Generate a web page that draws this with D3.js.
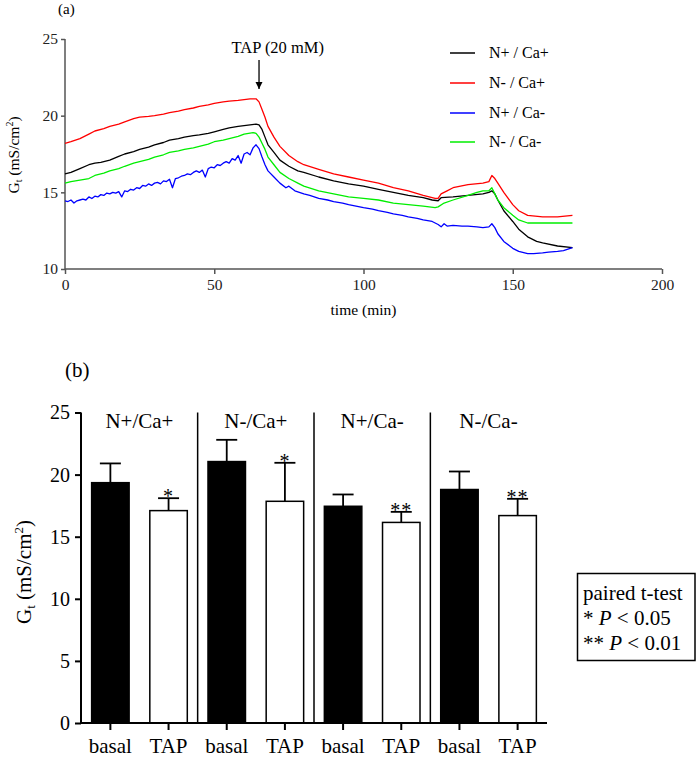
<!DOCTYPE html>
<html><head><meta charset="utf-8">
<script src="https://cdn.jsdelivr.net/npm/d3@7"></script>
<style>
body{margin:0;background:#fff;}
svg{display:block;}
</style></head>
<body><svg id="c" width="700" height="762" font-family="Liberation Serif"></svg>
<script>
// ---------- DATA (panel a) ----------
const seriesNames = ["N+ / Ca+", "N- / Ca+", "N+ / Ca-", "N- / Ca-"];
const seriesColors = ["#000000", "#ff0000", "#0000ff", "#00ee00"];
const blackTrace = [[0,16.2],[2,16.3],[5,16.55],[8,16.8],[10,16.9],[12,16.95],[15,17.1],[18,17.35],[20,17.5],[23,17.65],[25,17.8],[28,17.95],[30,18.1],[33,18.25],[35,18.4],[38,18.5],[40,18.6],[43,18.7],[45,18.75],[48,18.85],[50,18.95],[53,19.1],[55,19.2],[58,19.3],[60,19.35],[62,19.4],[64,19.45],[65,19.4],[66,19.1],[67,18.6],[68,18.1],[70,17.6],[72,17.1],[75,16.7],[78,16.4],[80,16.3],[85,16.0],[90,15.75],[95,15.55],[100,15.4],[105,15.2],[110,15.0],[115,14.8],[120,14.65],[123,14.5],[125,14.45],[126,14.65],[130,14.7],[135,14.8],[140,14.9],[142,15.0],[143,15.1],[144,14.9],[145,14.5],[147,13.8],[150,13.1],[152,12.6],[155,12.1],[158,11.8],[160,11.7],[165,11.5],[170,11.4]];
const redTrace = [[0,18.2],[2,18.3],[5,18.5],[8,18.8],[10,19.0],[13,19.15],[15,19.3],[18,19.45],[20,19.6],[23,19.8],[25,19.9],[28,19.95],[30,20.0],[33,20.1],[35,20.2],[38,20.3],[40,20.4],[43,20.5],[45,20.6],[48,20.7],[50,20.8],[53,20.9],[55,20.95],[58,21.0],[60,21.05],[62,21.1],[64,21.1],[65,20.9],[66,20.4],[67,19.9],[68,19.3],[70,18.6],[72,18.0],[75,17.4],[78,17.0],[80,16.8],[85,16.5],[90,16.2],[95,16.0],[100,15.8],[105,15.6],[110,15.3],[115,15.1],[120,14.8],[124,14.6],[125,14.6],[126,14.9],[128,15.1],[130,15.3],[135,15.5],[140,15.6],[142,15.7],[143,16.1],[144,15.9],[145,15.6],[147,15.0],[150,14.2],[152,13.8],[155,13.5],[160,13.4],[165,13.4],[170,13.5]];
const blueTrace = [[0,14.45],[1,14.4],[2,14.5],[3,14.3],[4,14.45],[5,14.5],[6,14.55],[7,14.5],[8,14.7],[9,14.6],[10,14.75],[11,14.7],[12,14.85],[13,14.8],[14,14.95],[15,14.9],[16,15.0],[17,14.95],[18,15.05],[19,14.7],[20,15.1],[21,15.05],[22,15.2],[23,15.15],[24,15.3],[25,15.25],[26,15.45],[27,15.4],[28,15.55],[29,15.45],[30,15.6],[31,15.65],[32,15.55],[33,15.75],[34,15.7],[35,15.85],[36,15.3],[37,15.9],[38,15.95],[39,16.05],[40,16.1],[41,16.2],[42,16.15],[43,16.3],[44,16.4],[45,16.3],[46,16.45],[47,16.0],[48,16.55],[49,16.65],[50,16.6],[51,16.8],[52,16.75],[53,16.9],[54,17.0],[55,16.9],[56,17.2],[57,17.1],[58,17.4],[59,16.9],[60,17.5],[61,17.6],[62,17.45],[63,17.9],[64,18.1],[65,17.85],[66,17.3],[67,16.8],[68,16.4],[70,16.0],[72,15.6],[74,15.3],[75,15.4],[77,15.1],[80,14.9],[82,14.8],[85,14.6],[88,14.5],[90,14.4],[93,14.3],[95,14.2],[100,14.0],[103,13.9],[105,13.8],[108,13.7],[110,13.6],[113,13.5],[115,13.4],[118,13.3],[120,13.2],[123,13.1],[125,12.9],[126,12.75],[127,12.95],[128,12.8],[130,12.85],[133,12.8],[135,12.8],[138,12.75],[140,12.7],[142,12.75],[143,12.95],[144,12.7],[145,12.3],[147,11.8],[149,11.5],[150,11.35],[152,11.15],[155,11.0],[157,11.0],[160,11.05],[162,11.1],[165,11.15],[167,11.2],[170,11.4]];
const greenTrace = [[0,15.6],[2,15.7],[5,15.8],[8,15.9],[10,16.1],[13,16.25],[15,16.4],[18,16.55],[20,16.7],[23,16.9],[25,17.0],[28,17.15],[30,17.3],[33,17.45],[35,17.6],[38,17.7],[40,17.8],[43,17.9],[45,18.0],[48,18.15],[50,18.3],[53,18.4],[55,18.5],[58,18.65],[60,18.8],[63,18.9],[64,18.85],[65,18.6],[66,18.2],[67,17.8],[68,17.3],[70,16.8],[72,16.3],[75,15.9],[78,15.6],[80,15.4],[85,15.1],[90,14.9],[95,14.7],[100,14.6],[105,14.5],[110,14.3],[115,14.2],[120,14.1],[124,14.0],[125,14.05],[127,14.3],[130,14.5],[135,14.8],[138,15.0],[140,15.1],[142,15.1],[143,15.3],[144,14.9],[145,14.5],[147,14.0],[150,13.5],[152,13.2],[155,13.0],[160,13.0],[165,13.0],[170,13.0]];
const traces = [blackTrace, redTrace, blueTrace, greenTrace];
const timeTicks = [0, 50, 100, 150, 200];
const gTicksA = [10, 15, 20, 25];
const tapTime = 65;

// ---------- DATA (panel b) ----------
const groups = ["N+/Ca+", "N-/Ca+", "N+/Ca-", "N-/Ca-"];
const conditions = ["basal", "TAP"];
const meanValues = [19.35, 17.1, 21.05, 17.85, 17.45, 16.15, 18.8, 16.7];
const errValues = [1.55, 1.0, 1.75, 3.1, 0.95, 0.85, 1.45, 1.35];
const sigMarks = ["", "*", "", "*", "", "**", "", "**"];
const gTicksB = [0, 5, 10, 15, 20, 25];

const FONT = "Liberation Serif";
const svg = d3.select("#c");
function txt(parent) { return parent.append("text").attr("font-family", FONT); }

// ================= PANEL A =================
const xA = d3.scaleLinear().domain([0, 200]).range([65, 662]);
const yA = d3.scaleLinear().domain([10, 25]).range([269, 39]);
const axisColA = "#555";

txt(svg).attr("x", 58).attr("y", 14).attr("font-size", 15).text("(a)");

const gxA = svg.append("g").attr("transform", "translate(0,269)")
  .call(d3.axisBottom(xA).tickValues(timeTicks).tickSize(5).tickPadding(5).tickFormat(d3.format("d")));
const gyA = svg.append("g").attr("transform", "translate(65,0)")
  .call(d3.axisLeft(yA).tickValues(gTicksA).tickSize(4).tickPadding(3).tickFormat(d3.format("d")));
[gxA, gyA].forEach(g => {
  g.attr("font-family", FONT);
  g.selectAll("path,line").attr("stroke", axisColA).attr("stroke-width", 1.5);
  g.select(".domain").attr("d", g === gxA ? "M65,0H662" : "M0,39V269");
  g.selectAll("text").attr("font-family", FONT).attr("font-size", 15.5).attr("fill", "#222");
});

txt(svg).attr("x", xA(100)).attr("y", 315).attr("text-anchor", "middle")
  .attr("font-size", 15.5).text("time (min)");

const ylabA = txt(svg).attr("transform", "translate(19,155) rotate(-90)")
  .attr("text-anchor", "middle").attr("font-size", 15.5);
ylabA.append("tspan").text("G");
ylabA.append("tspan").attr("font-size", 10).attr("dy", 3).text("t");
ylabA.append("tspan").attr("dy", -3).text(" (mS/cm");
ylabA.append("tspan").attr("font-size", 10).attr("dy", -6).text("2");
ylabA.append("tspan").attr("dy", 6).text(")");

const line = d3.line().x(d => xA(d[0])).y(d => yA(d[1]));
traces.forEach((tr, i) => {
  svg.append("path").datum(tr).attr("d", line).attr("fill", "none")
    .attr("stroke", seriesColors[i]).attr("stroke-width", 1.3).attr("stroke-linejoin", "round");
});

// TAP arrow
svg.append("defs").append("marker").attr("id", "ah").attr("viewBox", "0 0 10 10")
  .attr("refX", 10).attr("refY", 5).attr("markerWidth", 7).attr("markerHeight", 9)
  .attr("markerUnits", "userSpaceOnUse").attr("orient", "auto")
  .append("path").attr("d", "M0,0L10,5L0,10Z").attr("fill", "#000");
svg.append("line").attr("x1", xA(tapTime)).attr("x2", xA(tapTime)).attr("y1", 60).attr("y2", 89)
  .attr("stroke", "#000").attr("stroke-width", 1.3).attr("marker-end", "url(#ah)");
txt(svg).attr("x", xA(tapTime) - 27.5).attr("y", 53)
  .attr("font-size", 16.5).text("TAP (20 mM)");

// legend
const legY = [53, 83, 113, 142];
seriesNames.forEach((n, i) => {
  svg.append("line").attr("x1", 450).attr("x2", 475).attr("y1", legY[i]).attr("y2", legY[i])
    .attr("stroke", seriesColors[i]).attr("stroke-width", 1.5);
  txt(svg).attr("x", 489).attr("y", legY[i] + 5).attr("font-size", 16)
    .style("white-space", "pre").text(n);
});

// ================= PANEL B =================
const xB = d3.scaleBand().domain(d3.range(meanValues.length)).range([81, 547])
  .paddingInner(0.33).paddingOuter(0.17);
const yB = d3.scaleLinear().domain([0, 25]).range([723, 412.5]);

txt(svg).attr("x", 65).attr("y", 377).attr("font-size", 21).text("(b)");

const ylabB = txt(svg).attr("transform", "translate(31,572) rotate(-90)")
  .attr("text-anchor", "middle").attr("font-size", 21);
ylabB.append("tspan").text("G");
ylabB.append("tspan").attr("font-size", 13).attr("dy", 4).text("t");
ylabB.append("tspan").attr("dy", -4).text(" (mS/cm");
ylabB.append("tspan").attr("font-size", 13).attr("dy", -8).text("2");
ylabB.append("tspan").attr("dy", 8).text(")");

// separators
[1, 3, 5].forEach(i => {
  const sx = xB(i) + xB.bandwidth() + xB.step() * xB.paddingInner() / 2;
  svg.append("line").attr("x1", sx).attr("x2", sx).attr("y1", yB(25)).attr("y2", yB(0))
    .attr("stroke", "#000").attr("stroke-width", 1.5);
});

// group labels
groups.forEach((g, gi) => {
  const cx = (xB(gi * 2) + xB(gi * 2 + 1) + xB.bandwidth()) / 2;
  txt(svg).attr("x", cx).attr("y", 428).attr("text-anchor", "middle")
    .attr("font-size", 21).text(g);
});

// bars
const barIdx = d3.range(meanValues.length);
svg.append("g").selectAll("rect").data(barIdx).join("rect")
  .attr("x", i => xB(i) + 0.75).attr("width", xB.bandwidth() - 1.5)
  .attr("y", i => yB(meanValues[i])).attr("height", i => yB(0) - yB(meanValues[i]))
  .attr("fill", i => i % 2 === 0 ? "#000" : "#fff")
  .attr("stroke", "#000").attr("stroke-width", 1.5);

// error bars
const eb = svg.append("g").attr("stroke", "#000").attr("stroke-width", 1.8);
barIdx.forEach(i => {
  const cx = xB(i) + xB.bandwidth() / 2;
  const top = yB(meanValues[i] + errValues[i]);
  eb.append("line").attr("x1", cx).attr("x2", cx).attr("y1", yB(meanValues[i])).attr("y2", top);
  eb.append("line").attr("x1", cx - 10.5).attr("x2", cx + 10.5).attr("y1", top).attr("y2", top);
  if (sigMarks[i]) {
    txt(svg).attr("x", cx).attr("y", top + 5)
      .attr("text-anchor", "middle").attr("font-size", 20)
      .attr("letter-spacing", 1).text(sigMarks[i]);
  }
});

// axes
const gxB = svg.append("g").attr("transform", "translate(0,723)")
  .call(d3.axisBottom(xB).tickSize(7).tickPadding(8).tickFormat(i => conditions[i % 2]));
const gyB = svg.append("g").attr("transform", "translate(81,0)")
  .call(d3.axisLeft(yB).tickValues(gTicksB).tickSize(6).tickPadding(5).tickFormat(d3.format("d")));
[gxB, gyB].forEach(g => {
  g.attr("font-family", FONT);
  g.selectAll("path,line").attr("stroke", "#000").attr("stroke-width", 2);
  g.select(".domain").attr("d", g === gxB ? "M81,0H547" : "M0,412.5V723");
  g.selectAll("text").attr("font-family", FONT).attr("font-size", 20).attr("fill", "#000");
});
gxB.selectAll("text").attr("font-size", 21);

// stats box
svg.append("rect").attr("x", 577.5).attr("y", 573.5).attr("width", 117.5).attr("height", 87)
  .attr("fill", "none").attr("stroke", "#000").attr("stroke-width", 1.5);
const st = svg.append("g").attr("font-size", 21).attr("font-family", FONT);
txt(st).attr("x", 583).attr("y", 600).text("paired t-test");
const t2 = txt(st).attr("x", 583).attr("y", 625).style("white-space", "pre");
t2.append("tspan").text("* ");
t2.append("tspan").attr("font-style", "italic").text("P");
t2.append("tspan").text(" < 0.05");
const t3 = txt(st).attr("x", 583).attr("y", 650).style("white-space", "pre");
t3.append("tspan").text("** ");
t3.append("tspan").attr("font-style", "italic").text("P");
t3.append("tspan").text(" < 0.01");
</script></body></html>
